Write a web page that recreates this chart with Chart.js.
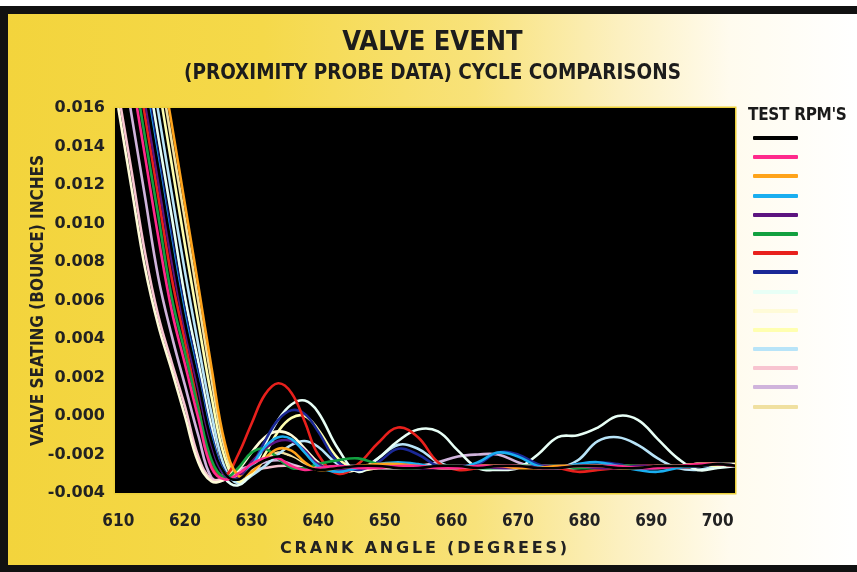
<!DOCTYPE html>
<html>
<head>
<meta charset="utf-8">
<title>Valve Event</title>
<script src="https://cdn.jsdelivr.net/npm/chart.js@4.4.1/dist/chart.umd.min.js"></script>
<style>
  html, body { margin: 0; padding: 0; background: #fff; }
  #frame {
    position: absolute; left: 0; top: 6px; width: 849px; height: 551px;
    border-left: 8px solid #111; border-top: 8px solid #111; border-bottom: 7px solid #111;
    background: linear-gradient(to right, #f3d43c 0%, #f5d94a 30%, #f8e27a 55%, #fcf0c0 72%, #fffbee 85%, #ffffff 100%);
  }
  #wrap { position: absolute; left: 0; top: 0; width: 857px; height: 572px; }
  #legend { position: absolute; left: 748px; top: 104px; width: 109px; }
  #legend .ttl { font: bold 17px "Liberation Sans Narrow", "DejaVu Sans Condensed", sans-serif; letter-spacing: -0.3px; color: #1a1a1a; white-space: nowrap; }
  #legend .item { width: 45px; height: 4px; margin-left: 5px; border-radius: 1px; }
</style>
</head>
<body>
<div id="frame"></div>
<div id="wrap"><canvas id="chartContainer" width="857" height="572"></canvas></div>
<div id="legend"></div>
<script>
// crank angle sample points (degrees)
var crankAngles = [610, 612, 614, 616, 618, 620, 622, 624, 626, 628, 630, 632, 634, 636, 638, 640,
  643, 646, 649, 652, 655, 658, 661, 664, 667, 670, 673, 676, 679, 682, 685, 688, 691, 694, 697, 700, 703];

var xTicks = [610, 620, 630, 640, 650, 660, 670, 680, 690, 700];

var seriesNames = ['Test 1', 'Test 2', 'Test 3', 'Test 4', 'Test 5', 'Test 6', 'Test 7', 'Test 8',
  'Test 9', 'Test 10', 'Test 11', 'Test 12', 'Test 13', 'Test 14', 'Test 15'];

var seriesColors = ['#000000', '#ff2a8c', '#ffa31a', '#1aaef0', '#5c1480', '#12a040', '#e8201c', '#1a2896',
  '#e8fff6', '#fffbd8', '#ffffb0', '#b8e4f8', '#f8c4d0', '#d0b4dc', '#f0e0a0'];

// valve seating (bounce), inches
var test1 = [0.0254, 0.0212, 0.0170, 0.0129, 0.0087, 0.0049, 0.0018, -0.0013, -0.0030, -0.0033, -0.0027, -0.0023, -0.0021, -0.0022, -0.0026, -0.0028,
  -0.0027, -0.0026, -0.0026, -0.0027, -0.0027, -0.0026, -0.0026, -0.0027, -0.0026, -0.0026, -0.0027, -0.0027, -0.0026, -0.0026, -0.0027, -0.0027, -0.0026, -0.0026, -0.0026, -0.0025, -0.0026];
var test2 = [0.0218, 0.0177, 0.0135, 0.0093, 0.0055, 0.0027, -0.0001, -0.0027, -0.0033, -0.0030, -0.0025, -0.0022, -0.0022, -0.0026, -0.0028, -0.0027,
  -0.0026, -0.0027, -0.0027, -0.0026, -0.0026, -0.0027, -0.0027, -0.0026, -0.0026, -0.0026, -0.0027, -0.0027, -0.0026, -0.0026, -0.0026, -0.0027, -0.0027, -0.0026, -0.0025, -0.0025, -0.0026];
var test3 = [0.0318, 0.0277, 0.0235, 0.0193, 0.0152, 0.0110, 0.0068, 0.0025, -0.0014, -0.0031, -0.0029, -0.0022, -0.0017, -0.0018, -0.0024, -0.0028,
  -0.0027, -0.0026, -0.0025, -0.0025, -0.0026, -0.0027, -0.0027, -0.0026, -0.0026, -0.0027, -0.0027, -0.0026, -0.0026, -0.0026, -0.0027, -0.0027, -0.0026, -0.0026, -0.0025, -0.0025, -0.0026];
var test4 = [0.0256, 0.0214, 0.0173, 0.0131, 0.0089, 0.0051, 0.0019, -0.0012, -0.0030, -0.0033, -0.0026, -0.0016, -0.0011, -0.0012, -0.0019, -0.0026,
  -0.0029, -0.0027, -0.0025, -0.0024, -0.0025, -0.0027, -0.0027, -0.0024, -0.0019, -0.0021, -0.0026, -0.0027, -0.0025, -0.0024, -0.0026, -0.0028, -0.0029, -0.0027, -0.0026, -0.0025, -0.0026];
var test5 = [0.0248, 0.0206, 0.0164, 0.0122, 0.0081, 0.0045, 0.0014, -0.0015, -0.0031, -0.0032, -0.0024, -0.0017, -0.0013, -0.0013, -0.0018, -0.0025,
  -0.0028, -0.0027, -0.0026, -0.0026, -0.0027, -0.0027, -0.0026, -0.0026, -0.0027, -0.0027, -0.0026, -0.0026, -0.0026, -0.0027, -0.0027, -0.0026, -0.0026, -0.0026, -0.0026, -0.0025, -0.0026];
var test6 = [0.0229, 0.0187, 0.0145, 0.0104, 0.0062, 0.0033, 0.0004, -0.0023, -0.0032, -0.0027, -0.0019, -0.0017, -0.0022, -0.0027, -0.0027, -0.0025,
  -0.0023, -0.0022, -0.0025, -0.0027, -0.0027, -0.0026, -0.0026, -0.0027, -0.0027, -0.0026, -0.0026, -0.0026, -0.0027, -0.0027, -0.0026, -0.0026, -0.0027, -0.0026, -0.0025, -0.0025, -0.0026];
var test7 = [0.0239, 0.0198, 0.0156, 0.0114, 0.0072, 0.0039, 0.0005, -0.0026, -0.0031, -0.0020, -0.0004, 0.0011, 0.0017, 0.0012, -0.0003, -0.0020,
  -0.0030, -0.0025, -0.0014, -0.0006, -0.0011, -0.0024, -0.0028, -0.0027, -0.0026, -0.0026, -0.0027, -0.0027, -0.0029, -0.0028, -0.0027, -0.0026, -0.0026, -0.0027, -0.0026, -0.0025, -0.0026];
var test8 = [0.0260, 0.0218, 0.0177, 0.0135, 0.0093, 0.0054, 0.0022, -0.0010, -0.0029, -0.0033, -0.0026, -0.0013, -0.0002, 0.0003, 0.0001, -0.0008,
  -0.0024, -0.0028, -0.0024, -0.0017, -0.0020, -0.0026, -0.0027, -0.0025, -0.0019, -0.0020, -0.0025, -0.0027, -0.0025, -0.0024, -0.0025, -0.0027, -0.0027, -0.0026, -0.0026, -0.0025, -0.0026];
var test9 = [0.0271, 0.0229, 0.0187, 0.0145, 0.0104, 0.0062, 0.0028, -0.0006, -0.0032, -0.0036, -0.0029, -0.0015, -0.0002, 0.0006, 0.0008, 0.0002,
  -0.0017, -0.0029, -0.0022, -0.0013, -0.0007, -0.0008, -0.0018, -0.0027, -0.0028, -0.0027, -0.0020, -0.0011, -0.0010, -0.0006, 0.0000, -0.0002, -0.0012, -0.0022, -0.0028, -0.0027, -0.0026];
var test10 = [0.0160, 0.0118, 0.0077, 0.0047, 0.0024, 0.0000, -0.0024, -0.0034, -0.0033, -0.0028, -0.0019, -0.0011, -0.0008, -0.0010, -0.0017, -0.0024,
  -0.0029, -0.0028, -0.0027, -0.0027, -0.0026, -0.0026, -0.0027, -0.0027, -0.0026, -0.0026, -0.0026, -0.0027, -0.0027, -0.0026, -0.0026, -0.0027, -0.0027, -0.0026, -0.0025, -0.0025, -0.0025];
var test11 = [0.0298, 0.0256, 0.0214, 0.0173, 0.0131, 0.0089, 0.0049, 0.0010, -0.0022, -0.0034, -0.0030, -0.0020, -0.0008, -0.0001, 0.0000, -0.0007,
  -0.0022, -0.0028, -0.0027, -0.0026, -0.0026, -0.0027, -0.0027, -0.0026, -0.0026, -0.0026, -0.0027, -0.0027, -0.0026, -0.0026, -0.0027, -0.0027, -0.0026, -0.0026, -0.0025, -0.0026, -0.0025];
var test12 = [0.0283, 0.0241, 0.0200, 0.0158, 0.0116, 0.0075, 0.0037, 0.0001, -0.0027, -0.0035, -0.0031, -0.0026, -0.0020, -0.0015, -0.0013, -0.0016,
  -0.0025, -0.0028, -0.0022, -0.0015, -0.0017, -0.0024, -0.0027, -0.0027, -0.0026, -0.0026, -0.0027, -0.0027, -0.0023, -0.0013, -0.0011, -0.0015, -0.0022, -0.0027, -0.0028, -0.0026, -0.0025];
var test13 = [0.0168, 0.0127, 0.0085, 0.0052, 0.0028, 0.0005, -0.0021, -0.0033, -0.0032, -0.0029, -0.0028, -0.0027, -0.0026, -0.0026, -0.0027, -0.0027,
  -0.0028, -0.0027, -0.0026, -0.0027, -0.0027, -0.0026, -0.0026, -0.0027, -0.0027, -0.0026, -0.0026, -0.0027, -0.0026, -0.0026, -0.0027, -0.0027, -0.0026, -0.0026, -0.0025, -0.0025, -0.0026];
var test14 = [0.0198, 0.0156, 0.0114, 0.0072, 0.0042, 0.0016, -0.0010, -0.0032, -0.0033, -0.0028, -0.0026, -0.0024, -0.0023, -0.0025, -0.0027, -0.0027,
  -0.0026, -0.0026, -0.0027, -0.0027, -0.0026, -0.0024, -0.0021, -0.0020, -0.0020, -0.0024, -0.0027, -0.0027, -0.0026, -0.0026, -0.0027, -0.0027, -0.0026, -0.0026, -0.0025, -0.0025, -0.0026];
var test15 = [0.0310, 0.0268, 0.0227, 0.0185, 0.0143, 0.0102, 0.0060, 0.0019, -0.0017, -0.0033, -0.0030, -0.0023, -0.0019, -0.0021, -0.0025, -0.0027,
  -0.0027, -0.0026, -0.0026, -0.0027, -0.0027, -0.0026, -0.0026, -0.0026, -0.0027, -0.0027, -0.0026, -0.0026, -0.0026, -0.0027, -0.0026, -0.0026, -0.0026, -0.0026, -0.0025, -0.0025, -0.0025];

var allSeries = [test1, test2, test3, test4, test5, test6, test7, test8, test9, test10, test11, test12, test13, test14, test15];

// black plot background with thin yellow edge
var plotBackground = {
  id: 'plotBackground',
  beforeDatasetsDraw: function (chart) {
    var a = chart.chartArea, c = chart.ctx;
    c.save();
    c.fillStyle = '#000';
    c.fillRect(a.left, a.top, a.right - a.left, a.bottom - a.top);
    c.strokeStyle = '#ecd03a';
    c.lineWidth = 1.5;
    c.strokeRect(a.left - 0.75, a.top - 0.75, a.right - a.left + 1.5, a.bottom - a.top + 1.5);
    c.restore();
  }
};

var datasets = allSeries.map(function (vals, i) {
  return {
    label: seriesNames[i],
    data: vals.map(function (v, j) { return { x: crankAngles[j], y: v }; }),
    borderColor: seriesColors[i],
    backgroundColor: seriesColors[i],
    borderWidth: 2.6,
    pointRadius: 0,
    tension: 0.4,
    fill: false,
    yAxisID: 'y'
  };
});

var ctx = document.getElementById('chartContainer').getContext('2d');
var chart = new Chart(ctx, {
  type: 'line',
  data: { datasets: datasets },
  plugins: [plotBackground],
  options: {
    responsive: false,
    animation: false,
    layout: { padding: { left: 8, right: 0, top: 10, bottom: 0 } },
    plugins: {
      legend: { display: false },
      tooltip: { enabled: false },
      title: {
        display: true,
        text: 'VALVE EVENT',
        color: '#1c1c1c',
        font: { family: '"Liberation Sans Narrow", "DejaVu Sans Condensed", sans-serif', size: 27, weight: 'bold' },
        padding: { top: 17, bottom: 2 }
      },
      subtitle: {
        display: true,
        text: '(PROXIMITY PROBE DATA) CYCLE COMPARISONS',
        color: '#1c1c1c',
        font: { family: '"Liberation Sans Narrow", "DejaVu Sans Condensed", sans-serif', size: 20.5, weight: 'bold' },
        padding: { top: 0, bottom: 22 }
      }
    },
    scales: {
      x: {
        type: 'linear',
        min: 609.5,
        max: 702.6,
        grid: { display: false },
        border: { display: false },
        afterFit: function (s) { s.height = 79; },
        afterBuildTicks: function (s) { s.ticks = xTicks.map(function (v) { return { value: v }; }); },
        ticks: {
          padding: 10,
          color: '#222',
          font: { family: '"Liberation Sans Narrow", "DejaVu Sans Condensed", sans-serif', size: 17, weight: 'bold' }
        },
        title: {
          display: true,
          text: 'CRANK ANGLE (DEGREES)',
          color: '#222',
          font: { family: '"DejaVu Sans", sans-serif', size: 16, weight: 'bold' },
          padding: { top: 0, bottom: 14 }
        }
      },
      y: {
        min: -0.004,
        max: 0.016,
        grid: { display: false },
        border: { display: false },
        afterFit: function (s) { s.width = 107; },
        ticks: {
          stepSize: 0.002,
          padding: 2,
          color: '#222',
          font: { family: '"DejaVu Sans", sans-serif', size: 16, weight: 'bold' },
          callback: function (v) { return Number(v).toFixed(3); }
        },
        title: {
          display: true,
          text: 'VALVE SEATING (BOUNCE) INCHES',
          color: '#222',
          font: { family: '"Liberation Sans Narrow", "DejaVu Sans Condensed", sans-serif', size: 17, weight: 'bold' },
          padding: { top: 20, bottom: 0 }
        }
      },
      // empty strip on the right that holds the legend column
      legendSpace: {
        type: 'linear',
        position: 'right',
        grid: { display: false },
        border: { display: false },
        ticks: { display: false },
        afterFit: function (s) { s.width = 122; }
      }
    }
  }
});

// spaced-out lettering on the x axis title
var xs = chart.scales.x;
var origDrawTitle = xs.drawTitle;
xs.drawTitle = function () {
  this.ctx.letterSpacing = '2.8px';
  origDrawTitle.apply(this, arguments);
  this.ctx.letterSpacing = '0px';
};
chart.draw();

// legend: title plus one line per test
var legend = document.getElementById('legend');
var ttl = document.createElement('div');
ttl.className = 'ttl';
ttl.textContent = "TEST RPM'S";
ttl.style.marginBottom = '12px';
legend.appendChild(ttl);
seriesColors.forEach(function (col) {
  var d = document.createElement('div');
  d.className = 'item';
  d.style.background = col;
  d.style.marginBottom = '15.2px';
  legend.appendChild(d);
});
</script>
</body>
</html>
